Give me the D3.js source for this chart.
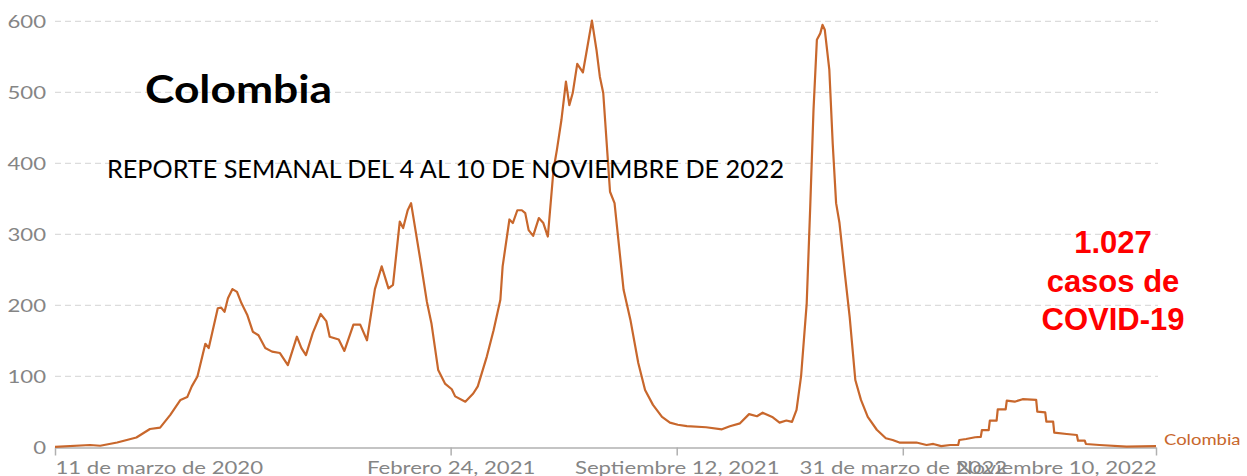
<!DOCTYPE html>
<html>
<head>
<meta charset="utf-8">
<script src="https://cdn.jsdelivr.net/npm/d3@7"></script>
<style>
  body { margin: 0; background: #fff; }
  svg { display: block; }
</style>
</head>
<body>
<script>
// ---- datos (casos diarios, promedio) ----
// dias desde el 11 de marzo de 2020
var dias = [0,31,40,55,72,84,93,102,111,117,
  121,126,133,136,143,144,147,150,153,157,
  161,165,170,175,180,186,192,199,206,214,
  218,222,228,235,240,243,251,256,264,270,
  276,283,289,295,299,305,308,312,315,323,
  329,333,339,345,351,354,363,370,374,382,
  388,394,396,402,405,409,413,416,419,423,
  428,432,436,441,444,448,452,455,458,462,
  467,470,475,479,482,485,491,495,503,509,
  516,522,529,537,544,551,559,576,590,597,
  606,614,621,626,635,641,647,652,656,660,
  665,668,671,674,677,679,681,685,688,691,
  694,699,703,708,713,719,727,735,741,747,
  762,771,777,784,792,799,800,806,814,819,
  820,826,827,833,834,841,842,849,856,868,
  869,876,877,883,884,895,904,905,911,912,
  924,948,974];

var casos = [1,3.5,2.5,7,14,26,28,46,67,71,
  86,100,146,140,189,196,197,191,210,223,
  219,203,187,163,158,140,135,133,116,156,
  140,130,161,188,178,156,152,136,173,173,
  151,223,255,224,229,318,309,334,344,266,
  205,175,109,90,82,72,64.5,76,86,128,
  165,208,255,321,316,334,334,330,306,298,
  323,316,297,391,419,461,515,482,499,540,
  528,555,601,560,522,499,360,344,222,180,
  119,81,60,43,35,32,30,28.5,25.6,30,
  34,47,44,49,42.5,35,38,36,53,100,
  203,334,475,574,583,595,588,532,428,344,
  316,241,184,95,67,43,25,13,10.6,7,
  7,3.5,5,2,3.5,3.5,10.6,12,14.4,15,
  24.6,24.6,37.8,37.8,53.8,53.8,66,64.5,68,67,
  50.4,49.5,36.3,36.3,20.9,19,17.6,9.6,9.6,4.9,
  3.5,1.1,2];

var fechasTicks = ["2020-03-11", "2021-02-24", "2021-09-12", "2022-03-31", "2022-11-10"];
var etiquetasX = ["11 de marzo de 2020", "Febrero 24, 2021", "Septiembre 12, 2021", "31 de marzo de 2022", "Noviembre 10, 2022"];
var ticksY = [0, 100, 200, 300, 400, 500, 600];
var textoCasos = ["1.027", "casos de", "COVID-19"];

var width = 1247, height = 476;
var stretch = 1.23; // the original picture is wider than tall

var parse = d3.timeParse("%Y-%m-%d");
var inicio = parse("2020-03-11");
var datos = dias.map(function(d, i) { return { fecha: d3.timeDay.offset(inicio, d), v: casos[i] }; });

var svg = d3.select("body").append("svg")
  .attr("width", width)
  .attr("height", height);

var x = d3.scaleTime()
  .domain([inicio, parse("2022-11-10")])
  .range([55, 1156]);

var y = d3.scaleLinear()
  .domain([0, 600])
  .range([447.5, 21.3]);

// grid
svg.append("g").selectAll("line")
  .data(ticksY.slice(1))
  .enter().append("line")
  .attr("x1", 55).attr("x2", 1158)
  .attr("y1", function(d) { return y(d); })
  .attr("y2", function(d) { return y(d); })
  .attr("stroke", "#dcdcdc")
  .attr("stroke-width", 1.2)
  .attr("stroke-dasharray", "6,4");

// eje y (solo etiquetas)
var yAxis = svg.append("g")
  .attr("transform", "translate(46,0)")
  .call(d3.axisLeft(y).tickValues(ticksY).tickSize(0).tickPadding(0));
yAxis.select(".domain").remove();
yAxis.selectAll("text")
  .attr("class", "stretch")
  .attr("dy", "0.36em")
  .style("font-family", "Lato")
  .style("font-size", "18px")
  .style("fill", "#858585");

// eje x
var xAxis = svg.append("g")
  .attr("transform", "translate(0," + y(0) + ")")
  .call(d3.axisBottom(x)
    .tickValues(fechasTicks.map(parse))
    .tickSize(8)
    .tickSizeOuter(0)
    .tickFormat(function(d, i) { return etiquetasX[i]; }));
xAxis.select(".domain").attr("stroke", "#b0b0b0").attr("stroke-width", 1.5);
xAxis.selectAll(".tick line").attr("stroke", "#b0b0b0").attr("stroke-width", 1.5);
xAxis.selectAll("text")
  .attr("class", "stretch")
  .attr("y", 26)
  .attr("dy", 0)
  .style("font-family", "Lato")
  .style("font-size", "18px")
  .style("fill", "#858585")
  .attr("text-anchor", function(d, i) { return i === 0 ? "start" : (i === etiquetasX.length - 1 ? "end" : "middle"); });

// linea
var line = d3.line()
  .x(function(d) { return x(d.fecha); })
  .y(function(d) { return y(d.v); });

svg.append("path")
  .datum(datos)
  .attr("fill", "none")
  .attr("stroke", "#c8672c")
  .attr("stroke-width", 2.2)
  .attr("stroke-linejoin", "round")
  .attr("d", line);

// etiqueta de la serie
svg.append("text")
  .attr("class", "stretch")
  .attr("x", 1164)
  .attr("y", 445)
  .style("font-family", "Lato")
  .style("font-size", "15px")
  .style("fill", "#c8672c")
  .text("Colombia");

// titulos
svg.append("text")
  .attr("x", 145).attr("y", 103)
  .attr("textLength", 187).attr("lengthAdjust", "spacingAndGlyphs")
  .style("font-family", "Lato")
  .style("font-weight", "bold")
  .style("font-size", "39px")
  .style("fill", "#000")
  .text("Colombia");

svg.append("text")
  .attr("x", 107).attr("y", 178)
  .attr("textLength", 677).attr("lengthAdjust", "spacingAndGlyphs")
  .style("font-family", "Lato")
  .style("font-size", "24.5px")
  .style("fill", "#000")
  .text("REPORTE SEMANAL DEL 4 AL 10 DE NOVIEMBRE DE 2022");

svg.append("g").selectAll("text")
  .data(textoCasos)
  .enter().append("text")
  .attr("x", 1113)
  .attr("y", function(d, i) { return 253 + i * 38.6; })
  .attr("text-anchor", "middle")
  .style("font-family", "Liberation Sans, Arial")
  .style("font-weight", "bold")
  .style("font-size", "31px")
  .style("fill", "#ff0000")
  .text(function(d) { return d; });

// widen the gray texts like in the picture
svg.selectAll("text.stretch").each(function() {
  var w = this.getComputedTextLength();
  d3.select(this).attr("textLength", w * stretch).attr("lengthAdjust", "spacingAndGlyphs");
});
</script>
</body>
</html>
